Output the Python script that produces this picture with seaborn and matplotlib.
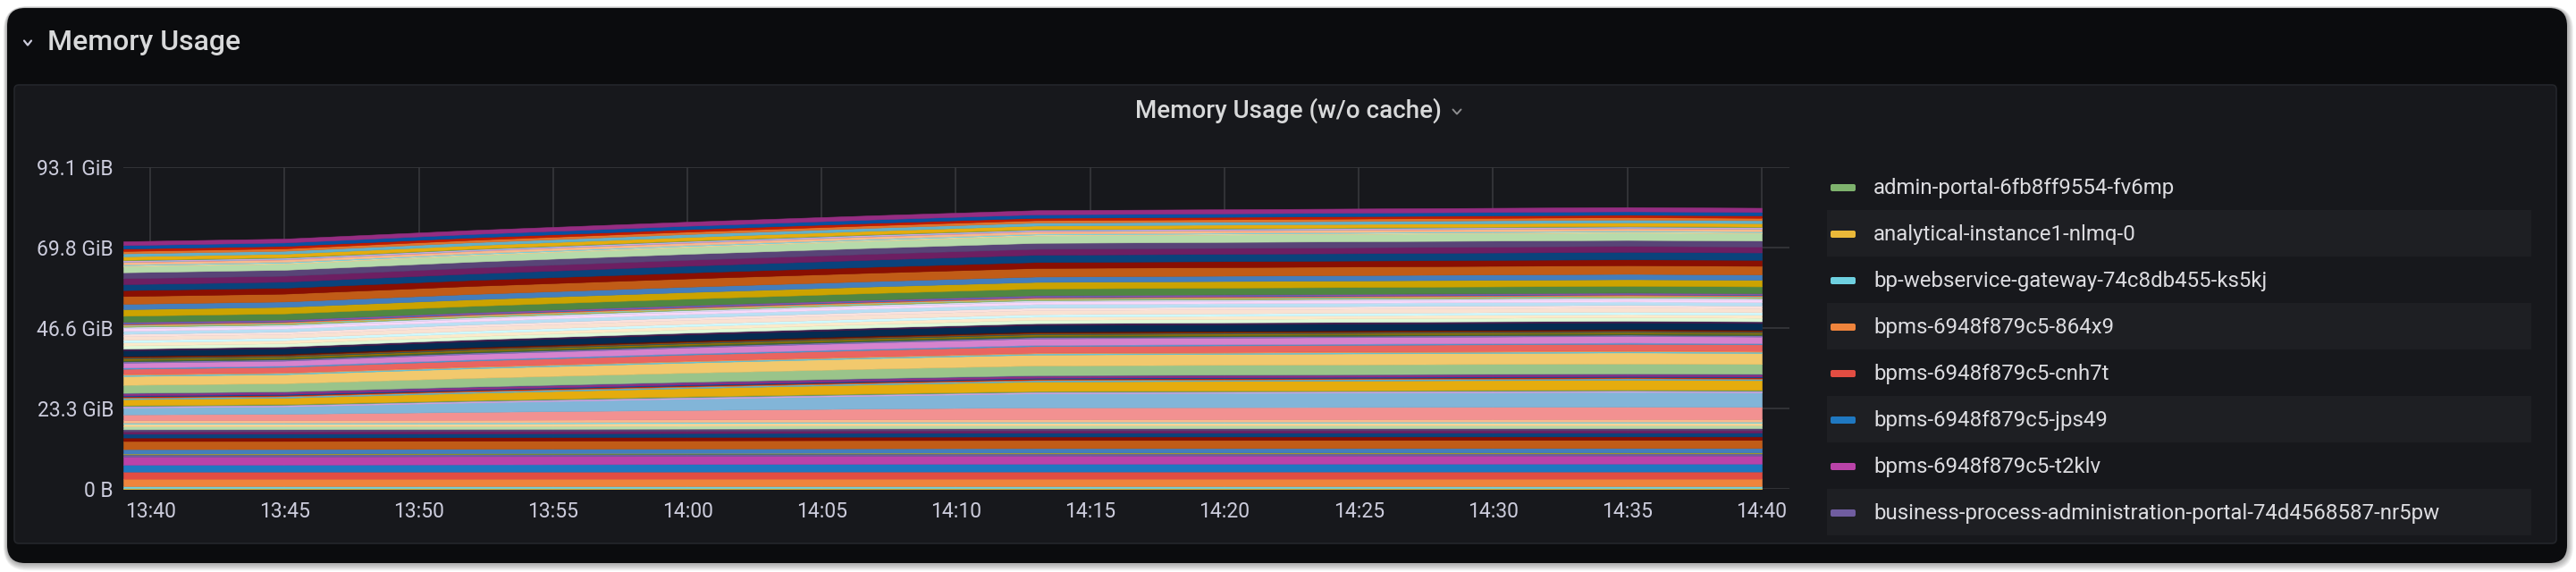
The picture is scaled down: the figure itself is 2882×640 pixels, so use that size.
import numpy as np
import pandas as pd
import matplotlib.pyplot as plt
import matplotlib.dates as mdates
from matplotlib.patches import FancyBboxPatch
from matplotlib.lines import Line2D
import seaborn as sns

# sample times read along the x axis
sample_times = ["13:39", "13:45", "13:52", "14:00", "14:07", "14:13", "14:35", "14:40"]

# memory per pod (GiB), Grafana series order, stacked bottom -> top
usage_part1 = [
    [0.10, 0.10, 0.10, 0.10, 0.10, 0.10, 0.10, 0.10],
    [0.10, 0.10, 0.10, 0.10, 0.10, 0.10, 0.10, 0.10],
    [0.60, 0.60, 0.60, 0.60, 0.60, 0.60, 0.60, 0.60],
    [2.15, 2.15, 2.15, 2.16, 2.16, 2.16, 2.16, 2.16],
    [2.05, 2.05, 2.05, 2.05, 2.06, 2.06, 2.06, 2.06],
    [2.00, 2.02, 2.10, 2.17, 2.23, 2.27, 2.30, 2.29],
    [2.35, 2.35, 2.35, 2.35, 2.35, 2.35, 2.35, 2.35],
    [0.60, 0.60, 0.60, 0.60, 0.60, 0.60, 0.60, 0.60],
    [0.15, 0.15, 0.15, 0.15, 0.15, 0.15, 0.15, 0.15],
    [0.10, 0.10, 0.10, 0.10, 0.10, 0.10, 0.10, 0.10],
    [1.30, 1.30, 1.30, 1.30, 1.30, 1.30, 1.30, 1.30],
    [2.35, 2.35, 2.35, 2.36, 2.36, 2.36, 2.36, 2.36],
    [1.00, 1.00, 1.00, 1.00, 1.00, 1.00, 1.00, 1.00],
    [1.10, 1.10, 1.10, 1.10, 1.10, 1.10, 1.10, 1.10],
    [0.70, 0.70, 0.70, 0.70, 0.70, 0.70, 0.70, 0.70],
    [0.60, 0.60, 0.60, 0.60, 0.60, 0.60, 0.60, 0.60],
    [0.80, 0.80, 0.80, 0.80, 0.80, 0.80, 0.80, 0.80],
    [0.80, 0.80, 0.80, 0.80, 0.80, 0.80, 0.80, 0.80],
    [0.30, 0.30, 0.30, 0.30, 0.30, 0.30, 0.30, 0.30],
    [0.75, 0.75, 0.75, 0.75, 0.75, 0.75, 0.75, 0.75],
    [1.65, 1.80, 2.28, 2.73, 3.09, 3.38, 3.55, 3.51],
    [2.00, 2.18, 2.76, 3.31, 3.75, 4.09, 4.30, 4.25],
    [0.25, 0.25, 0.25, 0.25, 0.25, 0.25, 0.25, 0.25],
    [0.20, 0.20, 0.20, 0.20, 0.20, 0.20, 0.20, 0.20],
    [0.20, 0.20, 0.20, 0.20, 0.20, 0.20, 0.20, 0.20],
    [1.75, 1.84, 2.11, 2.38, 2.59, 2.75, 2.85, 2.83],
    [0.40, 0.40, 0.40, 0.40, 0.40, 0.40, 0.40, 0.40],
    [0.20, 0.20, 0.20, 0.20, 0.20, 0.20, 0.20, 0.20],
    [0.20, 0.20, 0.20, 0.20, 0.20, 0.20, 0.20, 0.20],
]
usage_part2 = [
    [0.30, 0.30, 0.30, 0.30, 0.30, 0.30, 0.30, 0.30],
    [0.50, 0.50, 0.50, 0.50, 0.50, 0.50, 0.50, 0.50],
    [0.25, 0.25, 0.25, 0.25, 0.25, 0.25, 0.25, 0.25],
    [2.30, 2.34, 2.48, 2.61, 2.72, 2.80, 2.85, 2.84],
    [2.55, 2.60, 2.77, 2.92, 3.04, 3.14, 3.20, 3.19],
    [0.35, 0.35, 0.35, 0.35, 0.35, 0.35, 0.35, 0.35],
    [0.25, 0.25, 0.25, 0.25, 0.25, 0.25, 0.25, 0.25],
    [1.50, 1.53, 1.63, 1.73, 1.80, 1.86, 1.90, 1.89],
    [0.35, 0.35, 0.35, 0.35, 0.35, 0.35, 0.35, 0.35],
    [1.40, 1.44, 1.57, 1.69, 1.78, 1.86, 1.90, 1.89],
    [0.40, 0.40, 0.40, 0.40, 0.40, 0.40, 0.40, 0.40],
    [0.40, 0.40, 0.40, 0.40, 0.40, 0.40, 0.40, 0.40],
    [0.40, 0.40, 0.40, 0.40, 0.40, 0.40, 0.40, 0.40],
    [0.25, 0.25, 0.25, 0.25, 0.25, 0.25, 0.25, 0.25],
    [0.25, 0.25, 0.25, 0.25, 0.25, 0.25, 0.25, 0.25],
    [0.35, 0.35, 0.35, 0.35, 0.35, 0.35, 0.35, 0.35],
    [1.55, 1.58, 1.67, 1.75, 1.82, 1.87, 1.90, 1.89],
    [0.25, 0.25, 0.25, 0.25, 0.25, 0.25, 0.25, 0.25],
    [0.25, 0.25, 0.25, 0.25, 0.25, 0.25, 0.25, 0.25],
    [0.90, 0.91, 0.93, 0.96, 0.98, 0.99, 1.00, 1.00],
    [0.90, 0.90, 0.90, 0.90, 0.90, 0.90, 0.90, 0.90],
    [0.70, 0.70, 0.70, 0.70, 0.70, 0.70, 0.70, 0.70],
    [1.05, 1.06, 1.10, 1.14, 1.16, 1.19, 1.20, 1.20],
    [0.70, 0.70, 0.72, 0.73, 0.74, 0.75, 0.75, 0.75],
    [0.90, 0.91, 0.93, 0.96, 0.98, 0.99, 1.00, 1.00],
    [0.70, 0.70, 0.70, 0.70, 0.70, 0.70, 0.70, 0.70],
    [0.45, 0.45, 0.45, 0.45, 0.45, 0.45, 0.45, 0.45],
]
usage_part3 = [
    [0.25, 0.25, 0.25, 0.25, 0.25, 0.25, 0.25, 0.25],
    [0.15, 0.15, 0.15, 0.15, 0.15, 0.15, 0.15, 0.15],
    [0.15, 0.15, 0.15, 0.15, 0.15, 0.15, 0.15, 0.15],
    [0.15, 0.15, 0.15, 0.15, 0.15, 0.15, 0.15, 0.15],
    [0.20, 0.20, 0.20, 0.20, 0.20, 0.20, 0.20, 0.20],
    [0.20, 0.20, 0.20, 0.20, 0.20, 0.20, 0.20, 0.20],
    [0.15, 0.15, 0.15, 0.15, 0.15, 0.15, 0.15, 0.15],
    [0.20, 0.20, 0.20, 0.20, 0.20, 0.20, 0.20, 0.20],
    [1.75, 1.77, 1.82, 1.86, 1.90, 1.93, 1.95, 1.95],
    [1.90, 1.90, 1.90, 1.90, 1.90, 1.90, 1.90, 1.90],
    [1.55, 1.55, 1.55, 1.55, 1.55, 1.55, 1.55, 1.55],
    [2.25, 2.27, 2.33, 2.39, 2.44, 2.48, 2.50, 2.50],
    [1.72, 1.72, 1.72, 1.72, 1.72, 1.72, 1.72, 1.72],
    [1.72, 1.75, 1.86, 1.97, 2.05, 2.11, 2.15, 2.14],
    [1.72, 1.72, 1.72, 1.72, 1.72, 1.72, 1.72, 1.72],
    [1.72, 1.72, 1.72, 1.72, 1.72, 1.72, 1.72, 1.72],
    [1.72, 1.75, 1.86, 1.97, 2.05, 2.11, 2.15, 2.14],
    [0.30, 0.30, 0.30, 0.30, 0.30, 0.30, 0.30, 0.30],
    [0.25, 0.25, 0.25, 0.25, 0.25, 0.25, 0.25, 0.25],
    [0.65, 0.65, 0.65, 0.65, 0.65, 0.65, 0.65, 0.65],
    [0.15, 0.15, 0.15, 0.15, 0.15, 0.15, 0.15, 0.15],
    [0.15, 0.15, 0.15, 0.15, 0.15, 0.15, 0.15, 0.15],
    [0.15, 0.15, 0.15, 0.15, 0.15, 0.15, 0.15, 0.15],
    [0.10, 0.10, 0.10, 0.10, 0.10, 0.10, 0.10, 0.10],
    [0.15, 0.15, 0.15, 0.15, 0.15, 0.15, 0.15, 0.15],
    [1.00, 1.00, 1.00, 1.00, 1.00, 1.00, 1.00, 1.00],
    [0.85, 0.85, 0.85, 0.85, 0.85, 0.85, 0.85, 0.85],
    [0.70, 0.70, 0.70, 0.70, 0.70, 0.70, 0.70, 0.70],
    [0.70, 0.70, 0.70, 0.70, 0.70, 0.70, 0.70, 0.70],
    [1.00, 1.00, 1.00, 1.00, 1.00, 1.00, 1.00, 1.00],
    [1.10, 1.11, 1.13, 1.16, 1.18, 1.19, 1.20, 1.20],
]

legend_names = [
    "admin-portal-6fb8ff9554-fv6mp",
    "analytical-instance1-nlmq-0",
    "bp-webservice-gateway-74c8db455-ks5kj",
    "bpms-6948f879c5-864x9",
    "bpms-6948f879c5-cnh7t",
    "bpms-6948f879c5-jps49",
    "bpms-6948f879c5-t2klv",
    "business-process-administration-portal-74d4568587-nr5pw",
]

# grafana classic series palette
grafana_colors = [
    "#7EB26D", "#EAB839", "#6ED0E0", "#EF843C", "#E24D42", "#1F78C1", "#BA43A9", "#705DA0",
    "#508642", "#CCA300", "#447EBC", "#C15C17", "#890F02", "#0A437C", "#6D1F62", "#584477",
    "#B7DBAB", "#F4D598", "#70DBED", "#F9BA8F", "#F29191", "#82B5D8", "#E5A8E2", "#AEA2E0",
    "#629E51", "#E5AC0E", "#64B0C8", "#E0752D", "#BF1B00", "#0A50A1", "#962D82", "#614D93",
    "#9AC48A", "#F2C96D", "#65C5DB", "#F9934E", "#EA6460", "#5195CE", "#D683CE", "#806EB7",
    "#3F6833", "#967302", "#2F575E", "#99440A", "#58140C", "#052B51", "#511749", "#3F2B5B",
    "#E0F9D7", "#FCEACA", "#CFFAFF", "#F9E2D2", "#FCE2DE", "#BADFF4", "#F9D9F9", "#DEDAF7",
]

ytick_gib = [0, 23.28, 46.57, 69.85, 93.13]
ytick_labels = ["0 B", "23.3 GiB", "46.6 GiB", "69.8 GiB", "93.1 GiB"]
xtick_labels = ["13:40", "13:45", "13:50", "13:55", "14:00", "14:05", "14:10",
                "14:15", "14:20", "14:25", "14:30", "14:35", "14:40"]

W, H = 2882, 640
outer_bg = "#0b0c0e"
panel_bg = "#17181c"
band_bg = "#1e1f23"
grid_c = "#37383c"
text_c = "#ccccdc"

sns.set_theme(style="dark", rc={"axes.facecolor": panel_bg, "figure.facecolor": "white"})
plt.rcParams["font.family"] = ["Roboto", "DejaVu Sans"]

series = usage_part1 + usage_part2 + usage_part3
palette = sns.color_palette(grafana_colors, n_colors=len(series))

day = "2021-06-01 "
x = mdates.date2num(pd.to_datetime([day + t for t in sample_times]))
xticks = mdates.date2num(pd.to_datetime([day + t for t in xtick_labels]))

fig = plt.figure(figsize=(W / 100, H / 100), dpi=100)


def box(x0, y0, x1, y1, color, r, z, ec="none", lw=0, alpha=1.0):
    p = FancyBboxPatch((x0 / 100, (H - y1) / 100), (x1 - x0) / 100, (y1 - y0) / 100,
                       boxstyle=f"round,pad=0,rounding_size={r / 100}",
                       transform=fig.dpi_scale_trans, fc=color, ec=ec, lw=lw,
                       alpha=alpha, zorder=z)
    fig.add_artist(p)


def chevron(cx, cy, w, h, color, lw):
    fig.add_artist(Line2D([(cx - w) / W, cx / W, (cx + w) / W],
                          [1 - (cy - h) / H, 1 - (cy + h) / H, 1 - (cy - h) / H],
                          transform=fig.transFigure, color=color, lw=lw,
                          solid_capstyle="round", zorder=5))


# soft shadow + outer row container
for k in range(1, 8):
    box(8 - k * 0.6, 9 - k * 0.3, 2872 + k, 630 + k * 1.2, "black", 20 + k, -3, alpha=0.05)
box(8, 9, 2872, 630, outer_bg, 20, -2)
# inner panel
box(16, 95, 2860, 608, panel_bg, 5, -1, ec="#24262b", lw=1.2)

fig.text(53 / W, 1 - 48 / H, "Memory Usage", ha="left", va="center",
         fontsize=23, fontweight="medium", color="#d8d9da")
chevron(31, 48, 4, 2.5, "#ccccdc", 1.6)
fig.text(1441 / W, 1 - 124 / H, "Memory Usage (w/o cache)", ha="center", va="center",
         fontsize=20, fontweight="medium", color="#d8d9da")
chevron(1630, 125, 4.5, 2.5, "#8e8e90", 1.4)

ax = fig.add_axes([138 / W, (H - 547) / H, (2002 - 138) / W, (547 - 187) / H])
ax.set_facecolor("none")
polys = ax.stackplot(x, np.array(series), colors=palette, lw=0)
for p in polys:
    p.set_edgecolor(p.get_facecolor())
    p.set_linewidth(0.4)

ax.set_xlim(mdates.date2num(pd.Timestamp(day + "13:39")),
            mdates.date2num(pd.Timestamp(day + "14:41:02")))
ax.set_ylim(0, ytick_gib[-1])
ax.set_xticks(xticks)
ax.set_xticklabels(xtick_labels)
ax.set_yticks(ytick_gib)
ax.set_yticklabels(ytick_labels)
ax.tick_params(axis="both", length=0, colors=text_c, labelsize=16.5)
ax.tick_params(axis="x", pad=10)
ax.tick_params(axis="y", pad=8)
ax.set_axisbelow(True)
ax.grid(True, color=grid_c, lw=1.2)
sns.despine(ax=ax, left=True, bottom=True)
ax.spines["top"].set_visible(False)
ax.spines["right"].set_visible(False)

# legend list on the right
row_y = [210, 262, 314, 366, 418, 470, 522, 574]
for i, (name, cy) in enumerate(zip(legend_names, row_y)):
    if i % 2 == 1:
        box(2044, cy - 27, 2832, cy + 25, band_bg, 0, 0)
    box(2048, cy - 4, 2076, cy + 4, palette[i], 2, 1)
    fig.text(2096 / W, 1 - cy / H, name, ha="left", va="center",
             fontsize=17.3, color="#dcdce0", zorder=2)

fig.savefig("out.png", dpi=100)
